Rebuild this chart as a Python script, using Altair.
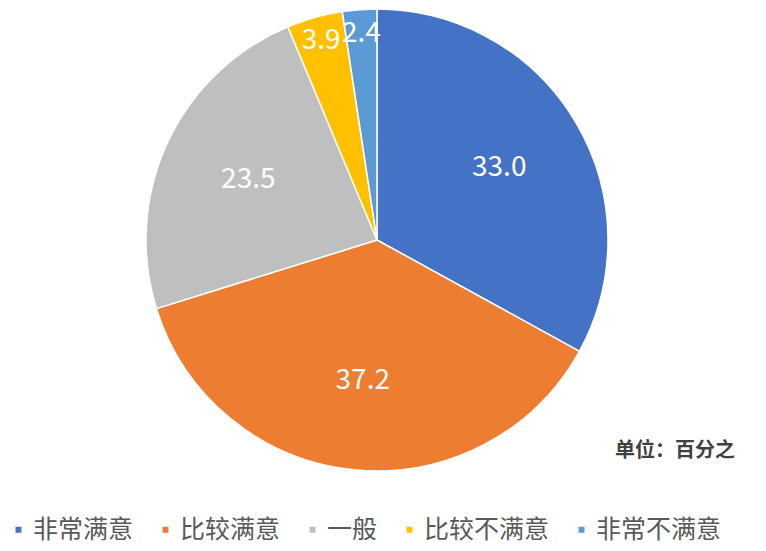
import altair as alt
import pandas as pd

categories = ["非常满意", "比较满意", "一般", "比较不满意", "非常不满意"]
values = [33.0, 37.2, 23.5, 3.9, 2.4]
labels = ["33.0", "37.2", "23.5", "3.9", "2.4"]
colors = ["#4472C4", "#ED7D31", "#BFBFBF", "#FFC000", "#5B9BD5"]
unit_text = ["单位：百分之"]

FONT = "Noto Sans CJK SC"

df = pd.DataFrame({"cat": categories, "val": values, "label": labels, "order": list(range(len(categories)))})

cx, cy = 369, 232

pie = alt.Chart(df).mark_arc(radius=231, stroke="white", strokeWidth=1.5).encode(
    theta=alt.Theta("val:Q", stack=True),
    order=alt.Order("order:Q"),
    x=alt.value(cx),
    y=alt.value(cy),
    color=alt.Color(
        "cat:N",
        sort=categories,
        scale=alt.Scale(domain=categories, range=colors),
        legend=alt.Legend(
            title=None,
            orient="none",
            legendX=-2,
            legendY=509,
            direction="horizontal",
            symbolType="square",
            symbolSize=36,
            symbolStrokeWidth=0,
            labelFontSize=25,
            labelFont=FONT,
            labelColor="#595959",
            labelOffset=2,
            columnPadding=19,
            padding=0,
            labelLimit=300,
        ),
    ),
)

pie_labels = alt.Chart(df).transform_window(
    cum="sum(val)", sort=[alt.SortField("order")]
).transform_calculate(
    mid="datum.cum - datum.val / 2",
    r="datum.val > 10 ? 142 : 207",
).mark_text(fontSize=28, color="white", font=FONT).encode(
    theta=alt.Theta("mid:Q", stack=None),
    radius=alt.Radius("r:Q", scale=None),
    x=alt.value(cx),
    y=alt.value(cy),
    text="label:N",
)

unit = alt.Chart(pd.DataFrame({"t": unit_text})).mark_text(
    align="left", baseline="middle", fontSize=20, fontWeight="bold", color="#404040", font=FONT
).encode(text="t:N", x=alt.value(607), y=alt.value(443))

chart = alt.layer(pie, pie_labels, unit).properties(
    width=750, height=542, padding=0, autosize=alt.AutoSizeParams(type="none")
).configure_view(stroke=None)

chart.save("out.html", embed_options={"renderer": "svg", "actions": False})
